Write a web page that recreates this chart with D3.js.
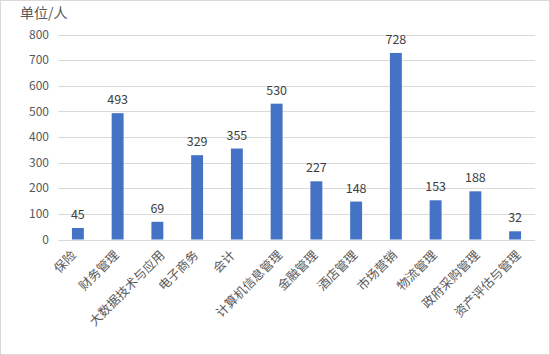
<!DOCTYPE html>
<html>
<head>
<meta charset="utf-8">
<script src="https://cdn.jsdelivr.net/npm/d3@7"></script>
<style>
  body { margin: 0; background: #fff; }
  svg { display: block; font-family: "Noto Sans CJK SC", "Noto Sans", sans-serif; }
</style>
</head>
<body>
<svg width="550" height="355"></svg>
<script>
const categories = ['保险', '财务管理', '大数据技术与应用', '电子商务', '会计', '计算机信息管理',
  '金融管理', '酒店管理', '市场营销', '物流管理', '政府采购管理', '资产评估与管理'];
const values = [45, 493, 69, 329, 355, 530, 227, 148, 728, 153, 188, 32];
const yTicks = [0, 100, 200, 300, 400, 500, 600, 700, 800];

const svg = d3.select('svg');
const width = +svg.attr('width');
const height = +svg.attr('height');

// outer frame
svg.append('rect')
    .attr('x', 0.5).attr('y', 0.5)
    .attr('width', width - 1).attr('height', height - 1)
    .attr('fill', '#fff')
    .attr('stroke', '#d9d9d9');

const x = d3.scaleBand()
    .domain(categories)
    .range([58, 535])
    .paddingInner(0.7)
    .paddingOuter(0.35);

const y = d3.scaleLinear()
    .domain([0, 800])
    .range([239.5, 34.5]);

// gridlines
svg.append('g')
  .selectAll('line').data(yTicks)
  .join('line')
    .attr('x1', 58).attr('x2', 535)
    .attr('y1', d => Math.round(y(d)) + 0.5)
    .attr('y2', d => Math.round(y(d)) + 0.5)
    .attr('stroke', '#d9d9d9')
    .attr('stroke-width', 1);

// y tick labels
svg.append('g')
  .selectAll('text').data(yTicks)
  .join('text')
    .attr('x', 49)
    .attr('y', d => y(d))
    .attr('dy', '0.35em')
    .attr('text-anchor', 'end')
    .attr('font-size', 12)
    .attr('fill', '#595959')
    .text(d => d);

// bars
svg.append('g')
  .selectAll('rect').data(values)
  .join('rect')
    .attr('x', (d, i) => x(categories[i]))
    .attr('y', d => y(d))
    .attr('width', x.bandwidth())
    .attr('height', d => y(0) - y(d))
    .attr('fill', '#4472c4');

// value labels
svg.append('g')
  .selectAll('text').data(values)
  .join('text')
    .attr('x', (d, i) => x(categories[i]) + x.bandwidth() / 2)
    .attr('y', d => y(d) - 9)
    .attr('text-anchor', 'middle')
    .attr('font-size', 12.5)
    .attr('fill', '#404040')
    .text(d => d);

// category labels (rotated, longer labels sit a little further right like Excel does)
svg.append('g')
  .selectAll('text').data(categories)
  .join('text')
    .attr('transform', d => {
      const cx = x(d) + x.bandwidth() / 2 + 1.5 * d.length - 4;
      return `translate(${cx},${256}) rotate(-45)`;
    })
    .attr('text-anchor', 'end')
    .attr('font-size', 12.5)
    .attr('fill', '#595959')
    .text(d => d);

// unit title
svg.append('text')
    .attr('x', 20).attr('y', 18)
    .attr('font-size', 14)
    .attr('fill', '#595959')
    .text('单位/人');
</script>
</body>
</html>
